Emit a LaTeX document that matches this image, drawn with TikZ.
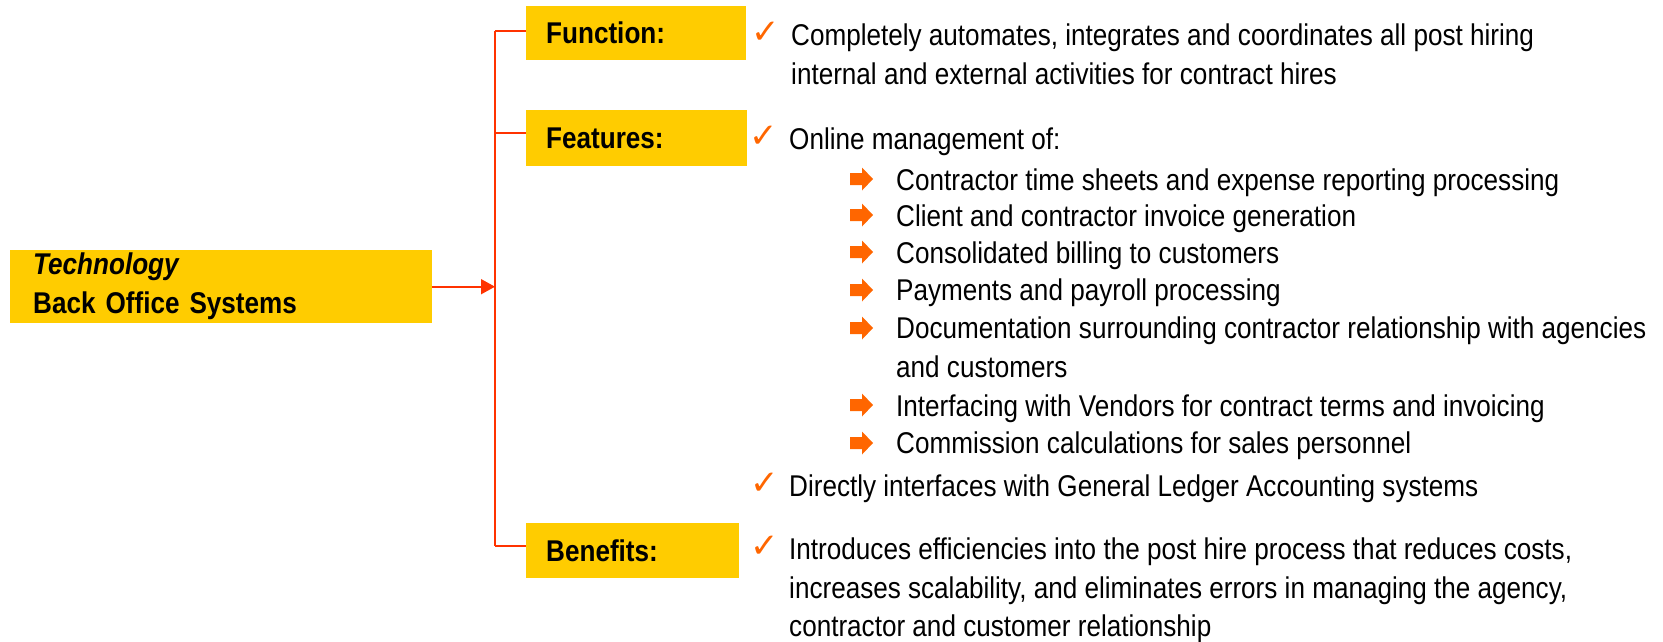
\documentclass[tikz,border=0pt]{standalone}
\usepackage{fontspec}
\setmainfont{Liberation Sans}[FakeStretch=0.87]
\newfontfamily\symfont{DejaVu Sans}
\usetikzlibrary{arrows.meta}
\definecolor{boxyellow}{HTML}{FFCC00}
\definecolor{connred}{HTML}{FF3300}
\definecolor{bulorange}{HTML}{FF6600}
\tikzset{
  txt/.style={anchor=base west, inner sep=0pt, font=\fontsize{30}{40}\selectfont},
  labelbox/.style={anchor=north west, fill=boxyellow, inner xsep=20pt, inner ysep=0pt,
     minimum height=54pt, align=left, font=\bfseries\fontsize{30}{36}\selectfont},
  techbox/.style={anchor=north west, fill=boxyellow, inner xsep=23pt, inner ysep=0pt,
     minimum height=73pt, align=left, font=\bfseries\fontsize{30}{39}\selectfont},
  conn/.style={draw=connred, line width=1.6pt},
  chk/.style={anchor=base west, inner sep=0pt, text=bulorange, font=\symfont\fontsize{34}{34}\selectfont},
  bularrow/.pic={\fill[bulorange] (0,-6) -- (12,-6) -- (12,-11.5) -- (23,0) -- (12,11.5) -- (12,6) -- (0,6) -- cycle;}
}
\begin{document}
\begin{tikzpicture}[x=1pt,y=-1pt]
\useasboundingbox (0,0) rectangle (1663,641);
% left box
\node[techbox, text width=376pt] (tech) at (10,250) {\textit{Technology}\\Back Office Systems};
% label boxes
\node[labelbox, text width=180pt] (fun) at (526,6) {Function:};
\node[labelbox, text width=181pt, minimum height=56pt] (fea) at (526,110) {Features:};
\node[labelbox, text width=173pt, minimum height=55pt] (ben) at (526,523) {Benefits:};
% connectors
\coordinate (vtop) at (495,31);
\coordinate (vmid) at (495,133);
\coordinate (vbot) at (495,546);
\draw[conn] (vtop) -- (vbot);
\draw[conn] (vtop) -- (vtop -| fun.west);
\draw[conn] (vmid) -- (vmid -| fea.west);
\draw[conn] (vbot) -- (vbot -| ben.west);
\draw[conn, -{Triangle[length=14pt, width=15pt]}] (tech.east) -- (tech.east -| vtop);
% function text
\node[chk] (c1) at (751,43) {✓};
\node[txt] (f1) at (791,45) {Completely automates, integrates and coordinates all post hiring};
\node[txt] (f2) at (791,84) {internal and external activities for contract hires};
% features text
\node[chk] (c2) at (749,147) {✓};
\node[txt] (g0) at (789,149) {Online management of:};
\pic at (850,179) {bularrow};
\node[txt] (g1) at (896,190) {Contractor time sheets and expense reporting processing};
\pic at (850,215) {bularrow};
\node[txt] (g2) at (896,226) {Client and contractor invoice generation};
\pic at (850,252) {bularrow};
\node[txt] (g3) at (896,263) {Consolidated billing to customers};
\pic at (850,290) {bularrow};
\node[txt] (g4) at (896,300) {Payments and payroll processing};
\pic at (850,328) {bularrow};
\node[txt] (g5) at (896,338) {Documentation surrounding contractor relationship with agencies};
\node[txt] (g5b) at (896,377) {and customers};
\pic at (850,405) {bularrow};
\node[txt] (g6) at (896,416) {Interfacing with Vendors for contract terms and invoicing};
\pic at (850,443) {bularrow};
\node[txt] (g7) at (896,453) {Commission calculations for sales personnel};
\node[chk] (c3) at (750,494) {✓};
\node[txt] (g8) at (789,496) {Directly interfaces with General Ledger Accounting systems};
% benefits text
\node[chk] (c4) at (750,557) {✓};
\node[txt] (b1) at (789,559) {Introduces efficiencies into the post hire process that reduces costs,};
\node[txt] (b2) at (789,598) {increases scalability, and eliminates errors in managing the agency,};
\node[txt] (b3) at (789,636) {contractor and customer relationship};
\end{tikzpicture}
\end{document}
